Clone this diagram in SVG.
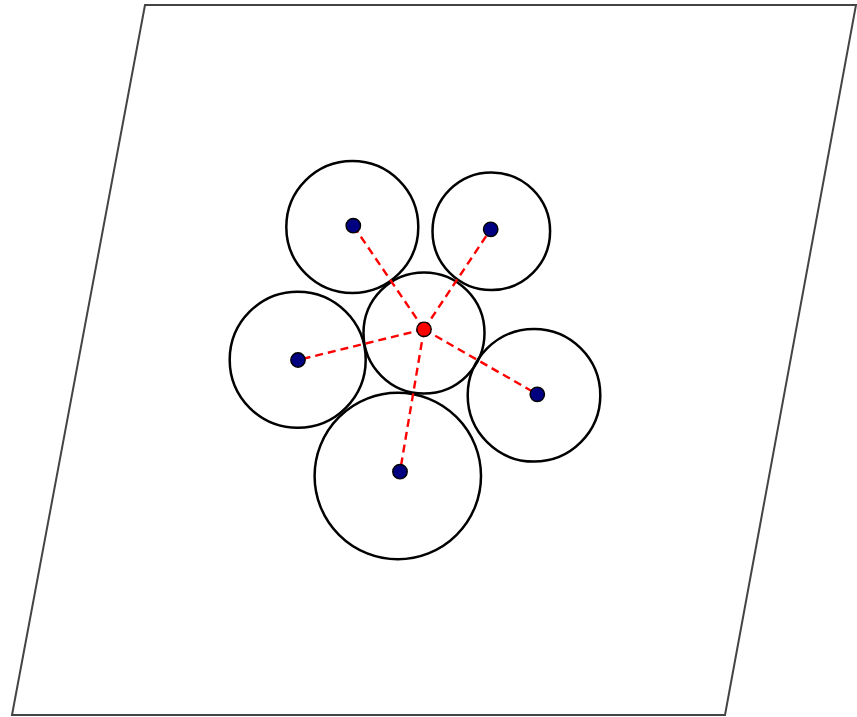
<svg xmlns="http://www.w3.org/2000/svg" width="857" height="717" viewBox="0 0 857 717">
<style>
.plane{fill:#fff;stroke:#444;stroke-width:2}
.ring{fill:none;stroke:#000;stroke-width:2.5}
.link{stroke:#f00;stroke-width:2.4;stroke-dasharray:8,5;fill:none}
.dot{fill:#000080;stroke:#000;stroke-width:1.4}
.center{fill:#f00;stroke:#000;stroke-width:1.4}
</style>
<polygon class="plane" points="145,5 856,5 725,715 12,715"/>
<g id="circles">
<circle id="c1" class="ring" cx="352.3" cy="227" r="66"/>
<circle id="c2" class="ring" cx="491.3" cy="231.3" r="58.8"/>
<circle id="c3" class="ring" cx="424" cy="333" r="60.5"/>
<circle id="c4" class="ring" cx="297.7" cy="359.8" r="68"/>
<circle id="c5" class="ring" cx="534" cy="395.3" r="66.3"/>
<circle id="c6" class="ring" cx="397.8" cy="476" r="83.2"/>
</g>
<g id="connectors">
<line class="link" x1="424" y1="329.3" x2="353.3" y2="225.7"/>
<line class="link" x1="424" y1="329.3" x2="490.7" y2="229.3"/>
<line class="link" x1="424" y1="329.3" x2="298" y2="360"/>
<line class="link" x1="424" y1="329.3" x2="537.3" y2="394.3"/>
<line class="link" x1="424" y1="329.3" x2="400" y2="471.7"/>
</g>
<g id="n1"><circle class="dot" cx="353.3" cy="225.7" r="7.2"/></g>
<g id="n2"><circle class="dot" cx="490.7" cy="229.3" r="7.2"/></g>
<g id="n3"><circle class="dot" cx="298" cy="360" r="7.2"/></g>
<g id="n4"><circle class="dot" cx="537.3" cy="394.3" r="7.2"/></g>
<g id="n5"><circle class="dot" cx="400" cy="471.7" r="7.2"/></g>
<g id="center"><circle class="center" cx="424" cy="329.3" r="7.2"/></g>
</svg>
